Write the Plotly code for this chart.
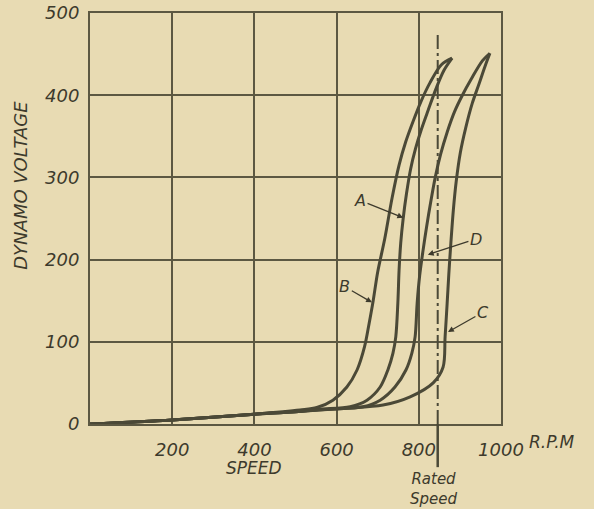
import plotly.graph_objects as go

# ---- data ----
speed_A = [0, 200, 400, 500, 560, 633, 674, 706, 725, 737, 744, 749, 752, 756, 762, 770, 780, 792, 806, 823, 842, 861, 881]
volt_A  = [0, 5, 12, 15, 18, 21, 29, 45, 66, 86, 106, 147, 187, 220, 250, 280, 310, 335, 358, 382, 408, 430, 445]

speed_B = [0, 200, 400, 511, 552, 591, 625, 650, 668, 679, 689, 700, 717, 735, 752, 768, 786, 805, 827, 855, 881]
volt_B  = [0, 5, 12, 17, 20, 29, 45, 66, 94, 122, 150, 185, 225, 275, 315, 343, 368, 392, 415, 437, 445]

speed_C = [0, 200, 400, 500, 616, 713, 779, 835, 859, 864, 869, 873, 878, 884, 891, 901, 914, 930, 946, 961, 973]
volt_C  = [0, 5, 12, 15, 19, 23, 33, 50, 69, 106, 147, 182, 220, 260, 295, 330, 360, 390, 413, 435, 451]

speed_D = [0, 200, 400, 500, 580, 664, 706, 742, 769, 783, 791, 796, 802, 810, 819, 829, 840, 853, 869, 887, 906, 928, 955, 973]
volt_D  = [0, 5, 12, 15, 18, 21, 29, 45, 66, 86, 106, 147, 180, 210, 240, 270, 300, 328, 355, 380, 400, 420, 442, 451]

rated_speed = 846
rated_top_volt = 477

x_tick_vals = [200, 400, 600, 800, 1000]
x_tick_text = ["200", "400", "600", "800", "1000"]
y_tick_vals = [0, 100, 200, 300, 400, 500]
y_tick_text = ["0", "100", "200", "300", "400", "500"]

curve_labels = ["A", "B", "C", "D"]
label_head_speed = [762, 686, 871, 822]
label_head_volt = [251, 148, 112, 206]
label_text_speed = [657, 620, 956, 939]
label_text_volt = [272, 167, 136, 225]

# ---- styling ----
PAPER = "#e8dbb3"
INK = "#3d3a2c"
CURVE = "#4b4937"
GRID = "#5c5842"
FONT = dict(family="DejaVu Sans", size=18, color=INK, style="italic")

fig = go.Figure()
for sx, vy in [(speed_A, volt_A), (speed_B, volt_B), (speed_C, volt_C), (speed_D, volt_D)]:
    fig.add_trace(go.Scatter(
        x=sx, y=vy, mode="lines",
        line=dict(color=CURVE, width=3, shape="spline", smoothing=0.9),
        showlegend=False, hoverinfo="skip",
    ))

# rated speed line: dash-dot inside the plot, solid below the axis
fig.add_shape(type="line", xref="x", yref="y",
              x0=rated_speed, x1=rated_speed, y0=0, y1=rated_top_volt,
              line=dict(color=CURVE, width=2, dash="14px,4px,3px,4px"))
fig.add_shape(type="line", xref="x", yref="paper",
              x0=rated_speed, x1=rated_speed, y0=0, y1=-0.105,
              line=dict(color=CURVE, width=2.5))

annotations = []
for lab, hx, hy, tx, ty in zip(curve_labels, label_head_speed, label_head_volt,
                               label_text_speed, label_text_volt):
    annotations.append(dict(
        x=hx, y=hy, xref="x", yref="y", ax=tx, ay=ty, axref="x", ayref="y",
        text=lab, showarrow=True, arrowhead=2, arrowsize=0.9, arrowwidth=1.3,
        arrowcolor=INK, font=dict(FONT, size=16),
    ))

annotations += [
    dict(text="SPEED", x=400, y=-0.108, xref="x", yref="paper", showarrow=False,
         font=dict(FONT, size=17), yanchor="middle"),
    dict(text="R.P.M", x=1000, y=-0.043, xref="x", yref="paper", showarrow=False,
         xanchor="left", xshift=26, font=dict(FONT, size=17), yanchor="middle"),
    dict(text="Rated<br>Speed", x=rated_speed, y=-0.158, xref="x", yref="paper",
         showarrow=False, font=dict(FONT, size=15), yanchor="middle", xshift=-4),
    dict(text="DYNAMO VOLTAGE", x=-0.17, y=0.58, xref="paper", yref="paper",
         showarrow=False, textangle=-90, font=dict(FONT, size=18),
         xanchor="center", yanchor="middle"),
]

fig.update_layout(
    width=594, height=509,
    margin=dict(l=90, r=93, t=13, b=85),
    paper_bgcolor=PAPER, plot_bgcolor=PAPER,
    font=FONT,
    annotations=annotations,
    xaxis=dict(range=[0, 1000], tickvals=x_tick_vals, ticktext=x_tick_text,
               showgrid=True, gridcolor=GRID, gridwidth=2,
               showline=True, linecolor=GRID, linewidth=2, mirror=True,
               zeroline=False, ticks="", ticklabelstandoff=8, automargin=False,
               tickfont=dict(FONT, size=18)),
    yaxis=dict(range=[0, 500], tickvals=y_tick_vals, ticktext=y_tick_text,
               showgrid=True, gridcolor=GRID, gridwidth=2,
               showline=True, linecolor=GRID, linewidth=2, mirror=True,
               zeroline=False, ticks="", ticklabelstandoff=5, automargin=False,
               tickfont=dict(FONT, size=18)),
)

fig.write_html(
    "out.html",
    config={"displayModeBar": False, "staticPlot": True},
    post_script="document.body.style.margin='0';document.body.style.background='#e8dbb3';",
)
